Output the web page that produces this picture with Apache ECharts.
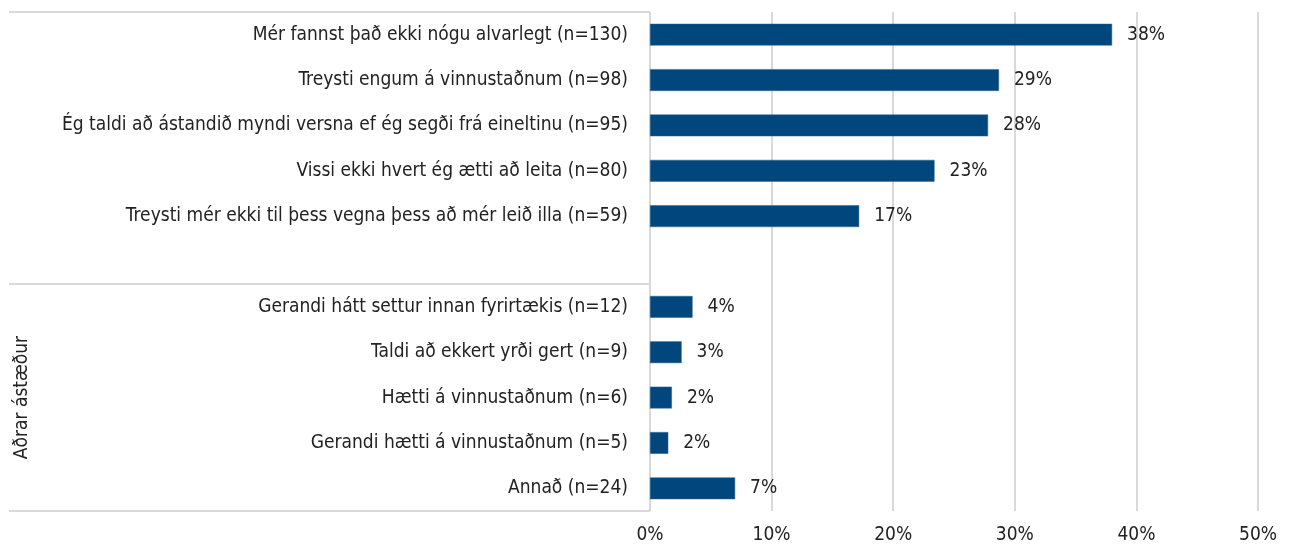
<!DOCTYPE html>
<html>
<head>
<meta charset="utf-8">
<script src="https://cdn.jsdelivr.net/npm/echarts@6/dist/echarts.min.js"></script>
<style>
    html, body { margin: 0; padding: 0; background: #fff; }
    #chart { width: 1291px; height: 551px; }
</style>
</head>
<body>
<div id="chart"></div>
<script>
// categories top to bottom, '' is the gap row between the two groups
const categories = [
    'Mér fannst það ekki nógu alvarlegt (n=130)',
    'Treysti engum á vinnustaðnum (n=98)',
    'Ég taldi að ástandið myndi versna ef ég segði frá eineltinu (n=95)',
    'Vissi ekki hvert ég ætti að leita (n=80)',
    'Treysti mér ekki til þess vegna þess að mér leið illa (n=59)',
    '',
    'Gerandi hátt settur innan fyrirtækis (n=12)',
    'Taldi að ekkert yrði gert (n=9)',
    'Hætti á vinnustaðnum (n=6)',
    'Gerandi hætti á vinnustaðnum (n=5)',
    'Annað (n=24)'
];
// percentages
const values = [38.0, 28.7, 27.8, 23.4, 17.2, null, 3.5, 2.6, 1.8, 1.5, 7.0];
const groupLabel = 'Aðrar ástæður';
const xTicks = [0, 10, 20, 30, 40, 50];

const FONT = '"DejaVu Sans Condensed", "Liberation Sans Narrow", sans-serif';
const FS = 19;
const TEXT = '#222';
const GRID = '#d9d9d9';

const chart = echarts.init(document.getElementById('chart'));

const option = {
    animation: false,
    textStyle: { fontFamily: FONT },
    grid: { left: 650, right: 33, top: 12, bottom: 40 },
    xAxis: {
        type: 'value',
        min: xTicks[0],
        max: xTicks[xTicks.length - 1],
        interval: 10,
        axisLine: { show: false },
        axisTick: { show: false },
        axisLabel: {
            formatter: v => v + '%',
            fontFamily: FONT, fontSize: FS, color: TEXT, margin: 15
        },
        splitLine: { lineStyle: { color: GRID, width: 2 } }
    },
    yAxis: {
        type: 'category',
        inverse: true,
        data: categories,
        axisLine: { show: false },
        axisTick: { show: false },
        axisLabel: { fontFamily: FONT, fontSize: FS, color: TEXT, margin: 22 }
    },
    series: [{
        type: 'bar',
        data: values,
        barWidth: '48%',
        itemStyle: { color: '#01467c', borderColor: '#2c6597', borderWidth: 0.5 },
        label: {
            show: true,
            position: 'right',
            distance: 15,
            formatter: p => Math.round(p.value) + '%',
            fontFamily: FONT, fontSize: FS, color: TEXT
        }
    }]
};
chart.setOption(option);

// group borders of the two-level category axis, placed from the axis scale
const yTop = chart.convertToPixel({ yAxisIndex: 0 }, 0);
const yNext = chart.convertToPixel({ yAxisIndex: 0 }, 1);
const band = yNext - yTop;
const edge = k => Math.round(yTop - band / 2 + k * band);
const x0 = chart.convertToPixel({ xAxisIndex: 0 }, 0);
const borderStyle = { stroke: GRID, lineWidth: 2 };
const yLines = [edge(0), edge(6), edge(11)];

chart.setOption({
    graphic: yLines.map(y => ({
        type: 'line',
        shape: { x1: 9, y1: y, x2: x0, y2: y },
        style: borderStyle,
        silent: true
    })).concat([{
        type: 'text',
        x: 22,
        y: (edge(6) + edge(11)) / 2,
        rotation: Math.PI / 2,
        style: {
            text: groupLabel,
            fontFamily: FONT, fontSize: FS, fill: TEXT,
            align: 'center', verticalAlign: 'middle'
        }
    }])
});
</script>
</body>
</html>
